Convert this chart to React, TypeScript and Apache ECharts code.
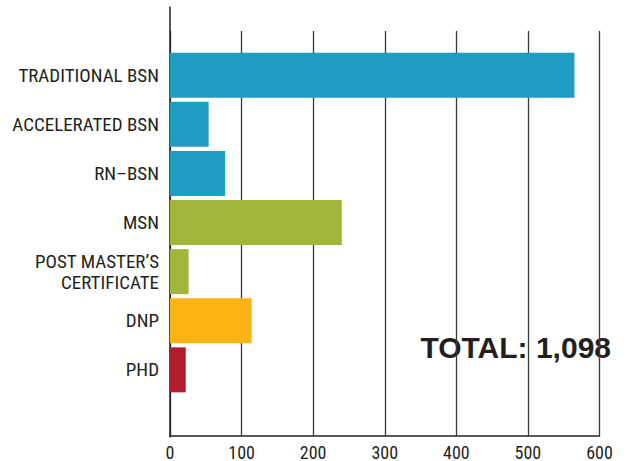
import React, { useEffect, useRef } from "react";
import * as echarts from "echarts";

const categories = [
  "TRADITIONAL BSN",
  "ACCELERATED BSN",
  "RN–BSN",
  "MSN",
  "POST MASTER’S\nCERTIFICATE",
  "DNP",
  "PHD",
];
const values = [565, 54, 77, 240, 26, 114, 22];
const barColors = ["#1e9cc4", "#1e9cc4", "#1e9cc4", "#a3b43a", "#a3b43a", "#fbb316", "#b01e2a"];
const totalLabel = "TOTAL: 1,098";
const xMin = 0;
const xMax = 600;
const xStep = 100;

const FONT = "'Liberation Sans Narrow', 'Roboto Condensed', Roboto, sans-serif";

export default function App() {
  const ref = useRef<HTMLDivElement>(null);
  useEffect(() => {
    if (!ref.current) return;
    const chart = echarts.init(ref.current, undefined, { renderer: "svg" });
    const L = 170;
    const R = 28.5;
    chart.setOption({
      animation: false,
      backgroundColor: "#ffffff",
      grid: [
        { left: L, right: R, top: 31, bottom: 24 },
        { left: L, right: R, top: 50.6, height: 343.8 },
        { left: L, right: R, top: 7, bottom: 24 },
      ],
      xAxis: [
        {
          gridIndex: 0,
          type: "value",
          min: xMin,
          max: xMax,
          interval: xStep,
          axisLine: { show: true, lineStyle: { color: "#231f20", width: 1.5 } },
          axisTick: { show: false },
          splitLine: { show: true, lineStyle: { color: "#3a3a3a", width: 1.3 } },
          axisLabel: { color: "#231f20", fontSize: 18, fontFamily: FONT, margin: 7 },
        },
        {
          gridIndex: 1,
          type: "value",
          min: xMin,
          max: xMax,
          interval: xStep,
          show: false,
        },
        {
          gridIndex: 2,
          type: "value",
          min: xMin,
          max: xMax,
          show: false,
        },
      ],
      yAxis: [
        { gridIndex: 0, type: "value", show: false },
        {
          gridIndex: 1,
          type: "category",
          data: categories,
          inverse: true,
          axisLine: { show: false },
          axisTick: { show: false },
          axisLabel: {
            color: "#231f20",
            fontSize: 19,
            fontFamily: FONT,
            margin: 11,
            lineHeight: 21,
            align: "right",
          },
        },
        {
          gridIndex: 2,
          type: "value",
          axisLine: { show: true, lineStyle: { color: "#231f20", width: 1.5 } },
          axisTick: { show: false },
          axisLabel: { show: false },
          splitLine: { show: false },
        },
      ],
      series: [
        {
          type: "bar",
          xAxisIndex: 1,
          yAxisIndex: 1,
          data: values.map((v, i) => ({ value: v, itemStyle: { color: barColors[i] } })),
          barWidth: 45,
        },
      ],
      graphic: [
        {
          type: "text",
          x: 611,
          y: 347,
          style: {
            text: totalLabel,
            fill: "#231f20",
            font: `bold 30px 'Liberation Sans', Arial, sans-serif`,
            textAlign: "right",
            textVerticalAlign: "middle",
          },
        },
      ],
    });
    return () => chart.dispose();
  }, []);
  return (
    <div
      ref={ref}
      style={{ position: "fixed", left: 0, top: 0, width: 628, height: 461 }}
    />
  );
}
